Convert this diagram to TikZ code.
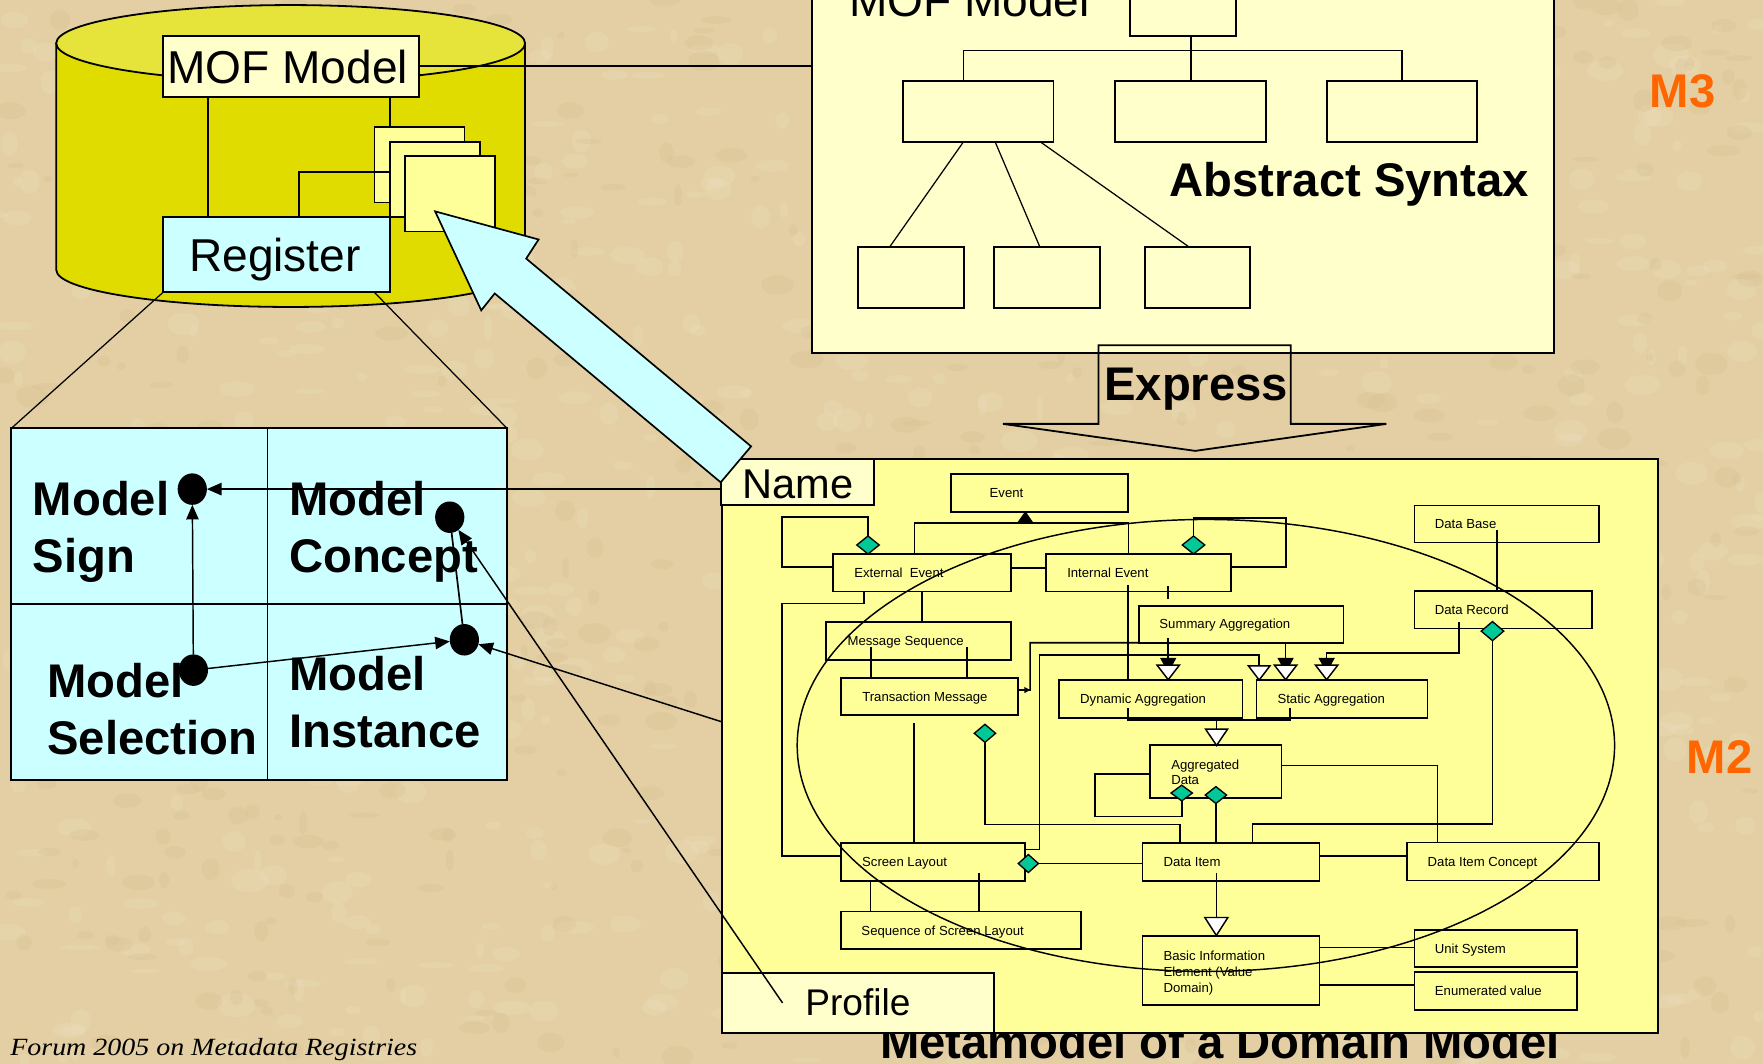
\documentclass[tikz,border=0pt]{standalone}
\usepackage{fontspec}
\setmainfont{Liberation Sans}
\newfontfamily\footfont{Liberation Serif}
\usetikzlibrary{shapes.geometric,arrows.meta}

\definecolor{parch}{HTML}{E3CFA3}
\definecolor{parchlt}{HTML}{F0E3C4}
\definecolor{parchdk}{HTML}{CDB286}
\definecolor{cylbody}{HTML}{E0DC00}
\definecolor{cyltop}{HTML}{E6E33A}
\definecolor{paleyel}{HTML}{FFFFCC}
\definecolor{m2yel}{HTML}{FFFF99}
\definecolor{cyanbox}{HTML}{CCFFFF}
\definecolor{aggteal}{HTML}{00C896}
\definecolor{mlabel}{HTML}{FF6600}

% a UML class box (frame only) given by its corners
\newcommand\umlframe[5]{%
  \node[ubx, anchor=north west, minimum width={(#4)-(#2)}, minimum height={(#5)-(#3)}] (#1) at (#2,#3) {};}
% a UML class box with a one-line name starting at x = #6
\newcommand\umlbox[7]{%
  \umlframe{#1}{#2}{#3}{#4}{#5}%
  \node[utx, anchor=west] (#1-t) at (#6,{((#3)+(#5))/2}) {#7};}
% open (white) generalisation head pointing down, tip at (#1,#2), width #3, height #4
\newcommand\wtri[4]{%
  \filldraw[fill=white, line width=1.3pt, line join=miter] ({#1-#3/2},{#2-#4}) -- ({#1+#3/2},{#2-#4}) -- (#1,#2) -- cycle;}
% filled head pointing down, tip at (#1,#2)
\newcommand\btri[4]{%
  \filldraw[fill=black, line width=1pt, line join=miter] ({#1-#3/2},{#2-#4}) -- ({#1+#3/2},{#2-#4}) -- (#1,#2) -- cycle;}
% filled head pointing up, tip at (#1,#2)
\newcommand\btriup[4]{%
  \filldraw[fill=black, line width=1pt, line join=miter] ({#1-#3/2},{#2+#4}) -- ({#1+#3/2},{#2+#4}) -- (#1,#2) -- cycle;}
% filled head partly hidden behind an open head
\newcommand\dbltri[2]{\btri{#1}{#2-7}{13}{12}\wtri{#1}{#2}{20}{13}}

\begin{document}
\begin{tikzpicture}[x=1pt, y=-1pt,
  uml/.style={line width=1.5pt},
  fineline/.style={line width=1.1pt},
  ubx/.style={draw, line width=1.5pt, fill=m2yel, inner sep=0pt, outer sep=0pt},
  pbx/.style={draw, line width=1.7pt, fill=paleyel, inner sep=0pt, outer sep=0pt},
  utx/.style={inner sep=0pt, font=\fontsize{11.7}{14}\selectfont, text height=8.4pt, text depth=0pt},
  mtx/.style={inner sep=0pt, font=\fontsize{11.7}{14}\selectfont, align=left, anchor=north west},
  bigtext/.style={inner sep=0pt, anchor=base west, font=\fontsize{41}{49}\selectfont},
  bigbold/.style={inner sep=0pt, anchor=base west, font=\fontsize{42}{50}\selectfont\bfseries},
  cellbold/.style={inner sep=0pt, anchor=north west, align=left, font=\fontsize{42}{50.5}\selectfont\bfseries},
  dmd/.style={diamond, draw, fill=aggteal, line width=1.2pt, inner sep=0pt, outer sep=0pt, minimum width=20pt, minimum height=16pt},
  blackdot/.style={ellipse, fill=black, minimum width=26pt, minimum height=28pt, inner sep=0pt, outer sep=0pt},
  dotarrow/.style={-{Triangle[length=13pt,width=11pt]}, line width=1.3pt},
]
\useasboundingbox (0,0) rectangle (1568,946);
\clip (0,0) rectangle (1568,946);

% ---------- parchment background
\fill[parch] (0,0) rectangle (1568,946);
\pgfmathsetseed{17}
\foreach \i in {1,...,700}{
  \fill[parchlt, opacity=0.22] ({rnd*1568},{rnd*946}) ellipse [x radius={3+rnd*14}, y radius={2+rnd*9}];}
\foreach \i in {1,...,500}{
  \fill[parchdk, opacity=0.16] ({rnd*1568},{rnd*946}) ellipse [x radius={3+rnd*12}, y radius={2+rnd*8}];}

% ---------- M3: abstract syntax panel
\node[pbx, anchor=north west, minimum width=660pt, minimum height=334pt] (m3) at (722,-20) {};
\node[bigtext] (m3-title) at (755,14.5) {MOF Model};
\node[pbx, anchor=north west, minimum width=94pt, minimum height=52pt] (mt) at (1005,-20) {};
\node[pbx, anchor=north west, minimum width=134pt, minimum height=54pt] (b1) at (803,72) {};
\node[pbx, anchor=north west, minimum width=134pt, minimum height=54pt] (b2) at (992,72) {};
\node[pbx, anchor=north west, minimum width=134pt, minimum height=54pt] (b3) at (1180,72) {};
\node[pbx, anchor=north west, minimum width=94pt, minimum height=54pt] (c1) at (763,220) {};
\node[pbx, anchor=north west, minimum width=94pt, minimum height=54pt] (c2) at (884,220) {};
\node[pbx, anchor=north west, minimum width=94pt, minimum height=54pt] (c3) at (1018,220) {};
\draw[uml] (b2.north |- mt.south) -- (b2.north);
\draw[uml] (857,0 |- b1.north) |- (b3.north |- 0,45) -- (b3.north);
\draw[fineline] (857,0 |- b1.south) -- (791,0 |- c1.north);
\draw[fineline] (885,0 |- b1.south) -- (925,0 |- c2.north);
\draw[fineline] (925,0 |- b1.south) -- (1058,0 |- c3.north);
\node[bigbold] (abs) at (1040,175) {Abstract Syntax};

% ---------- Express block arrow
\draw[line width=1.6pt, line join=miter] (977,307) -- (1148,307) -- (1148,377) -- (1233,377)
  -- (1063,401) -- (892,377) -- (977,377) -- cycle;
\node[bigbold] (express) at (982,356) {Express};

% ---------- repository cylinder
\path[draw, line width=1.6pt, fill=cylbody] (50,38.5) -- (50,240)
  arc[start angle=180, end angle=0, x radius=208.5, y radius=33] -- (467,38.5) -- cycle;
\draw[line width=1.6pt, fill=cyltop] (258.5,38.5) ellipse [x radius=208.5, y radius=34];
\node[pbx, anchor=north west, minimum width=228pt, minimum height=54pt] (mofc) at (145,32) {};
\node[bigtext] (mofc-t) at (148.5,74) {MOF Model};
\node[draw, fill=cyanbox, line width=1.6pt, inner sep=0pt, outer sep=0pt, anchor=north west,
  minimum width=202pt, minimum height=67pt] (reg) at (145,193) {};
\node[bigtext] (reg-t) at (168,241.6) {Register};
\node[ubx, anchor=north west, minimum width=80pt, minimum height=67pt] (r1) at (333,113) {};
\node[ubx, anchor=north west, minimum width=80pt, minimum height=67pt] (r2) at (347,126) {};
\node[ubx, anchor=north west, minimum width=80pt, minimum height=67pt] (r3) at (360,139) {};
\draw[uml] (185,0 |- mofc.south) -- (185,0 |- reg.north);
\draw[uml] (347,0 |- mofc.south) -- (347,0 |- r1.north);
\draw[uml] (266,0 |- reg.north) |- (r2.west |- 0,153);
\draw[uml] (mofc.east |- 0,58.5) -- (m3.west |- 0,58.5);

% ---------- registry cells
\node[draw, fill=cyanbox, line width=1.8pt, inner sep=0pt, outer sep=0pt, anchor=north west,
  minimum width=441pt, minimum height=313pt] (grid) at (10,381) {};
\draw[uml] (238,0 |- grid.north) -- (238,0 |- grid.south);
\draw[uml] (grid.west |- 0,537) -- (grid.east |- 0,537);
\draw[fineline] (reg.south west) -- (grid.north west);
\draw[fineline] (333,0 |- reg.south) -- (grid.north east);
\node[cellbold] (t-sign) at (29,427.7) {Model\\Sign};
\node[cellbold] (t-concept) at (257,427.7) {Model\\Concept};
\node[cellbold] (t-sel) at (42,589.7) {Model\\Selection};
\node[cellbold] (t-inst) at (257,583.7) {Model\\Instance};
\node[blackdot] (d1) at (171,435) {};
\node[blackdot] (d2) at (400,460) {};
\node[blackdot] (d3) at (172,596) {};
\node[blackdot] (d4) at (413,569) {};
\draw[dotarrow] (d3) -- (d1);
\draw[dotarrow] (d3) -- (d4);
\draw[uml] (d4) -- (d2);

% ---------- caption partly hidden by the M2 panel
\node[bigbold] (caption) at (782.5,941) {Metamodel of a Domain Model};

% ---------- M2: domain metamodel panel
\node[draw, fill=m2yel, line width=1.8pt, inner sep=0pt, outer sep=0pt, anchor=north west,
  minimum width=833pt, minimum height=511pt] (m2) at (642,408) {};
\node[pbx, anchor=north west, minimum width=136pt, minimum height=41pt] (name) at (641,408) {};
\node[inner sep=0pt, anchor=base west, font=\fontsize{37}{44}\selectfont] (name-t) at (660,443) {Name};
\node[pbx, anchor=north west, minimum width=242pt, minimum height=54pt] (profile) at (642,865) {};
\node[inner sep=0pt, anchor=base west, font=\fontsize{33}{40}\selectfont] (profile-t) at (716,903) {Profile};

\umlbox{ev}{846}{421.5}{1003}{455.5}{880}{Event}
\umlbox{ee}{741}{493}{899}{526}{759.6}{External\ \ Event}
\umlbox{ie}{930.5}{493}{1095}{526}{949}{Internal Event}
\umlbox{ms}{734.6}{553}{899}{587}{753.6}{Message Sequence}
\umlbox{tm}{748}{603}{905.5}{636}{766.7}{Transaction Message}
\umlbox{sa}{1013}{538.7}{1195}{571.6}{1031}{Summary Aggregation}
\umlbox{da}{942}{605}{1105}{638.5}{960.5}{Dynamic Aggregation}
\umlbox{st}{1117.6}{605}{1269.7}{638.5}{1136}{Static Aggregation}
\umlbox{db}{1258}{449.7}{1422}{482.6}{1276}{Data Base}
\umlbox{dr}{1258}{525.9}{1415.7}{559}{1276}{Data Record}
\umlframe{ad}{1022.7}{662.6}{1139.7}{709.8}
\node[mtx] (ad-t) at (1041.5,675.4) {Aggregated\\Data};
\umlbox{sl}{748}{749.8}{911.6}{783.5}{766.6}{Screen Layout}
\umlbox{di}{1016}{749.8}{1173.6}{783.5}{1034.6}{Data Item}
\umlbox{dic}{1251.5}{749.4}{1422}{783.2}{1269.6}{Data Item Concept}
\umlbox{ssl}{748}{810.8}{961.4}{844}{766}{Sequence of Screen Layout}
\umlframe{bie}{1016}{832.2}{1173.4}{894}
\node[mtx] (bie-t) at (1034.6,845.8) {Basic Information\\Element (Value\\Domain)};
\umlbox{us}{1258}{827}{1402.3}{860.3}{1276}{Unit System}
\umlbox{enu}{1258}{864.7}{1402.3}{898.3}{1276}{Enumerated value}

% aggregation diamonds
\node[dmd] (dia1) at (772,484.7) {};
\node[dmd] (dia2) at (1061.5,484.7) {};
\node[dmd, minimum width=19pt, minimum height=14pt] (dia3) at (1051,705.3) {};
\node[dmd, minimum width=19pt, minimum height=15pt] (dia4) at (1081.4,707.1) {};
\node[dmd, minimum width=19pt] (dia5) at (876,652.2) {};
\node[dmd, minimum height=17pt] (dia6) at (1327.4,561.3) {};
\node[dmd, minimum width=18pt] (dia7) at (914.6,768) {};

% connectors
\draw[uml] (ee.west |- 0,504) -- (695.7,504) |- (dia1.north |- 0,460) -- (dia1.north);
\draw[uml] (813.2,0 |- ee.north) |- (1003.8,465.4) -- (1003.8,0 |- ie.north);
\btriup{911.9}{455.5}{14}{10}
\draw[uml] (ee.east |- 0,505) -- (ie.west |- 0,505);
\draw[uml] (ie.east |- 0,504) -- (1143.7,504) |- (dia2.north |- 0,460.4) -- (dia2.north);
\draw[uml] (768.2,0 |- ee.south) |- (695.7,536.6) |- (sl.west |- 0,761.3);
\draw[uml] (820.3,0 |- ee.south) -- (820.3,0 |- ms.north);
\draw[uml] (774.4,575) -- (774.4,0 |- tm.north);
\draw[uml] (859.8,575) -- (859.8,0 |- tm.north);
\draw[uml] (tm.east |- 0,613.7) -- (916.2,613.7) -- (916.2,571.6) -- (sa.south west);
\fill (916.2,613.7) -- (911,610.9) -- (911,616.5) -- cycle;
\draw[uml] (sl.east |- 0,755.4) -| (924.6,582.5) -| (1119.9,592);
\wtri{1119.9}{604.8}{19}{12.5}
\draw[uml] (1003,520.3) -- (1003,0 |- da.north);
\draw[uml] (1039,521) -- (1039,533);
\draw[uml] (1039,567.7) -- (1039,586);
\dbltri{1039}{604.5}
\draw[uml] (1143.4,0 |- sa.south) -- (1143.4,586);
\dbltri{1143.4}{604.5}
\draw[uml] (1297.8,553) |- (1179.9,580.5) -- (1179.9,586);
\dbltri{1179.9}{604.5}
\draw[uml] (1003,630) |- (1147.2,640.4) -- (1147.2,630);
\draw[uml] (1082,640.4) -- (1082,649);
\wtri{1082}{663}{19.5}{14.5}
\draw[uml] (ad.west |- 0,688.4) -- (973.8,688.4) |- (1051,726.3) -- (dia3.south);
\draw[uml] (dia4.south) -- (dia4.south |- di.north);
\draw[uml] (dia5.south) |- (1049.2,733.2) -- (1049.2,0 |- di.north);
\draw[uml] (dia6.south) |- (1113.9,733.1) -- (1113.9,0 |- di.north);
\draw[uml] (ad.east |- 0,680.8) -| (1278.6,0 |- dic.north);
\draw[uml] (di.east |- 0,761.5) -- (dic.west |- 0,761.5);
\draw[uml] (dia7.east) -- (di.west |- dia7.east);
\draw[uml] (813,643.3) -- (813,0 |- sl.north);
\draw[uml] (774.1,0 |- sl.south) -- (774.1,0 |- ssl.north);
\draw[uml] (870.6,776.7) -- (870.6,0 |- ssl.north);
\draw[uml] (1081.8,776.7) -- (1081.8,816);
\wtri{1081.8}{832}{20.5}{16}
\draw[uml] (bie.east |- 0,842.8) -- (us.west |- 0,842.8);
\draw[uml] (bie.east |- 0,876) -- (enu.west |- 0,876);
\draw[uml] (1331.2,471.4) -- (1331.2,0 |- dr.north);
\node[ellipse, draw, line width=1.3pt, inner sep=0pt, minimum width=727pt, minimum height=402pt] (domain) at (1072.5,663) {};

% ---------- links from the metamodel to the registry cells
\coordinate (pfend) at (696,892);
\draw[dotarrow] (m2.west |- 0,435) -- (d1);
\draw[dotarrow] (m2.west |- 0,642) -- (d4);
\draw[dotarrow] (pfend) -- (d2);

% ---------- register block arrow
\filldraw[fill=cyanbox, line width=1.5pt, line join=miter] (641,429) -- (440,261) -- (428,276)
  -- (387,188) -- (479,213) -- (468,230) -- (668,397) -- cycle;

% ---------- level labels and footer
\node[bigbold, text=mlabel] (m3-lbl) at (1467,96) {M3};
\node[bigbold, text=mlabel] (m2-lbl) at (1500,688) {M2};
\node[inner sep=0pt, anchor=base west, font=\footfont\itshape\fontsize{22}{26}\selectfont] (footer) at (9,939)
  {\scalebox{1.13}[1]{Forum 2005 on Metadata Registries}};
\end{tikzpicture}
\end{document}
